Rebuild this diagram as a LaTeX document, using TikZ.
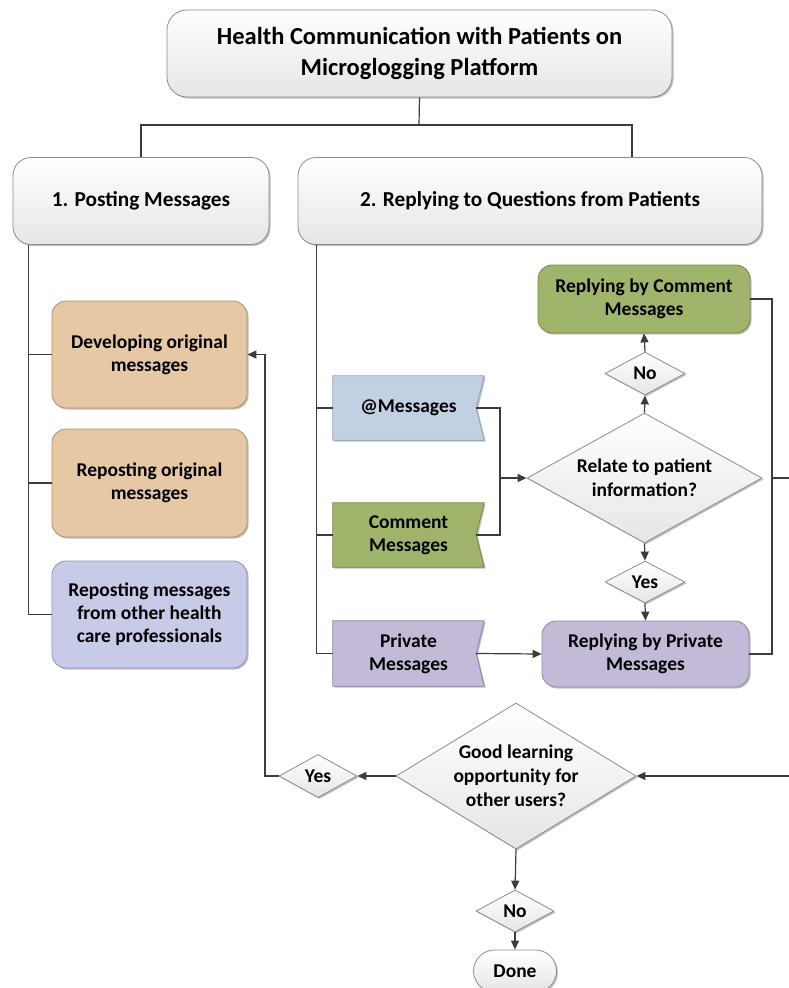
\documentclass[tikz,border=0pt]{standalone}
\usepackage{fontspec}
\setmainfont{Carlito}
\usetikzlibrary{arrows.meta,shapes.geometric,shadows}
\definecolor{bordergray}{HTML}{8C8C8C}
\definecolor{linec}{HTML}{3C3C3C}
\definecolor{tan}{HTML}{E6C9A4}
\definecolor{tanb}{HTML}{A89274}
\definecolor{lavblue}{HTML}{C8CBE8}
\definecolor{lavblueb}{HTML}{8E92B8}
\definecolor{skyb}{HTML}{C2D0E4}
\definecolor{skybb}{HTML}{8EA2BE}
\definecolor{olive}{HTML}{A0B46C}
\definecolor{oliveb}{HTML}{74874A}
\definecolor{purp}{HTML}{C3BAD8}
\definecolor{purpb}{HTML}{8E84A8}
\begin{document}
\begin{tikzpicture}[x=1pt,y=-1pt,
  every node/.style={font=\bfseries\fontsize{19.5}{23}\selectfont, align=center, text=black, inner sep=0pt},
  shad/.style={drop shadow={shadow xshift=1.5pt, shadow yshift=-1.5pt, opacity=0.25, fill=black}},
  graybox/.style={draw=bordergray, line width=0.8pt, rounded corners=18pt, top color=white, bottom color=black!10, shad},
  cbox/.style={draw=#1, line width=0.8pt, rounded corners=14pt, shad},
  flagtext/.style={minimum width=151pt},
  dia/.style={diamond, draw=bordergray, line width=0.8pt, top color=white, bottom color=black!10, shad},
  conn/.style={draw=linec, line width=1.2pt},
  arr/.style={conn, -{Triangle[length=9pt,width=8pt]}}
]
\useasboundingbox (0,0) rectangle (789,988);

% title and main branches
\node[graybox, minimum width=505pt, minimum height=87pt, rounded corners=20pt,
      font=\bfseries\fontsize{24.5}{31.5}\selectfont] (title) at (419.5,53.5)
      {Health Communication with Patients on\\Microglogging Platform};
\node[graybox, minimum width=256pt, minimum height=87pt, font=\bfseries\fontsize{21.3}{24}\selectfont]
      (p1) at (141,201) {1. Posting Messages};
\node[graybox, minimum width=464pt, minimum height=87pt, font=\bfseries\fontsize{21.3}{24}\selectfont]
      (p2) at (530,201) {2. Replying to Questions from Patients};

\coordinate (hj) at (419,125);
\draw[conn] (title.south) -- (hj);
\draw[conn] (p1.north) |- (hj) -| ([xshift=102pt]p2.north);

% posting messages column
\node[cbox=tanb, fill=tan, minimum width=195pt, minimum height=107pt] (dev) at (149.5,354.5)
      {Developing original\\messages};
\node[cbox=tanb, fill=tan, minimum width=195pt, minimum height=108pt] (rep) at (149.5,483)
      {Reposting original\\messages};
\node[cbox=lavblueb, fill=lavblue, minimum width=195pt, minimum height=107pt] (oth) at (149.5,614.5)
      {Reposting messages\\from other health\\care professionals};

\coordinate (l1) at ([xshift=16pt]p1.south west);
\draw[conn] (l1) |- (dev.west);
\draw[conn] (l1) |- (rep.west);
\draw[conn] (l1) |- (oth.west);

% replying column: flags
\node[flagtext, minimum height=64pt] (am) at (408.5,408) {};
\node[flagtext, minimum height=64pt] (cm) at (408.5,535) {};
\node[flagtext, minimum height=65pt] (pm) at (408.5,653.5) {};
\foreach \n/\f/\b in {am/skyb/skybb, cm/olive/oliveb, pm/purp/purpb}{
  \filldraw[fill=\f, draw=\b, line width=0.8pt, shad]
    (\n.north west) -- (\n.north east) -- ([xshift=-8pt]\n.east) -- (\n.south east) -- (\n.south west) -- cycle;
  \coordinate (\n-n) at ([xshift=-8pt]\n.east);
}
\node (amt) at (am) {@Messages};
\node (cmt) at (cm) {Comment\\Messages};
\node (pmt) at (pm) {Private\\Messages};

\coordinate (l2) at ([xshift=19pt]p2.south west);
\draw[conn] (l2) |- (am.west);
\draw[conn] (l2) |- (cm.west);
\draw[conn] (l2) |- (pm.west);

% decision relate
\node[dia, minimum width=235pt, minimum height=130pt,
      label={[align=center, font=\bfseries\fontsize{19.5}{24}\selectfont]center:Relate to patient\\information?}] (rel) at (644.5,478) {};
\node[dia, minimum width=80pt, minimum height=43pt] (no1) at (645,373.5) {No};
\node[dia, minimum width=80pt, minimum height=42pt] (yes1) at (645,582) {Yes};
\node[cbox=oliveb, fill=olive, minimum width=212pt, minimum height=68pt] (rc) at (644,299)
      {Replying by Comment\\Messages};
\node[cbox=purpb, fill=purp, minimum width=207pt, minimum height=66pt] (rp) at (645.5,654)
      {Replying by Private\\Messages};

\coordinate (jn) at (500,478);
\draw[conn] (am-n) -| (jn) |- (cm-n);
\draw[arr] (jn) -- (rel.west);
\draw[arr] (rel.north) -- (no1.south);
\draw[arr] (no1.north) -- (rc.south);
\draw[arr] (rel.south) -- (yes1.north);
\draw[arr] (yes1.south) -- (rp.north);
\draw[arr] (pm-n) -- (rp.west);

\coordinate (rl) at (772,478);
\coordinate (rr) at (792,478);
\draw[conn] (rc.east) -| (rl) |- (rp.east);
\draw[conn] (rl) -- (rr);

% decision learning
\node[dia, minimum width=240pt, minimum height=146pt,
      label={[align=center, font=\bfseries\fontsize{19.5}{24}\selectfont]center:Good learning\\opportunity for\\other users?}] (gl) at (516,776) {};
\node[dia, minimum width=78pt, minimum height=43pt] (yes2) at (318,776) {Yes};
\node[dia, minimum width=78pt, minimum height=42pt] (no2) at (515,911) {No};
\node[graybox, rounded corners=21pt, minimum width=83pt, minimum height=42pt,
      font=\bfseries\fontsize{19.5}{22}\selectfont] (done) at (515,971) {Done};

\coordinate (rb) at (792,776);
\coordinate (lc) at (265,776);
\draw[arr] (rb) -- (gl.east);
\draw[arr] (gl.west) -- (yes2.east);
\draw[arr] (yes2.west) -- (lc) |- (dev.east);
\draw[arr] (gl.south) -- (no2.north);
\draw[arr] (no2.south) -- (done.north);
\end{tikzpicture}
\end{document}
